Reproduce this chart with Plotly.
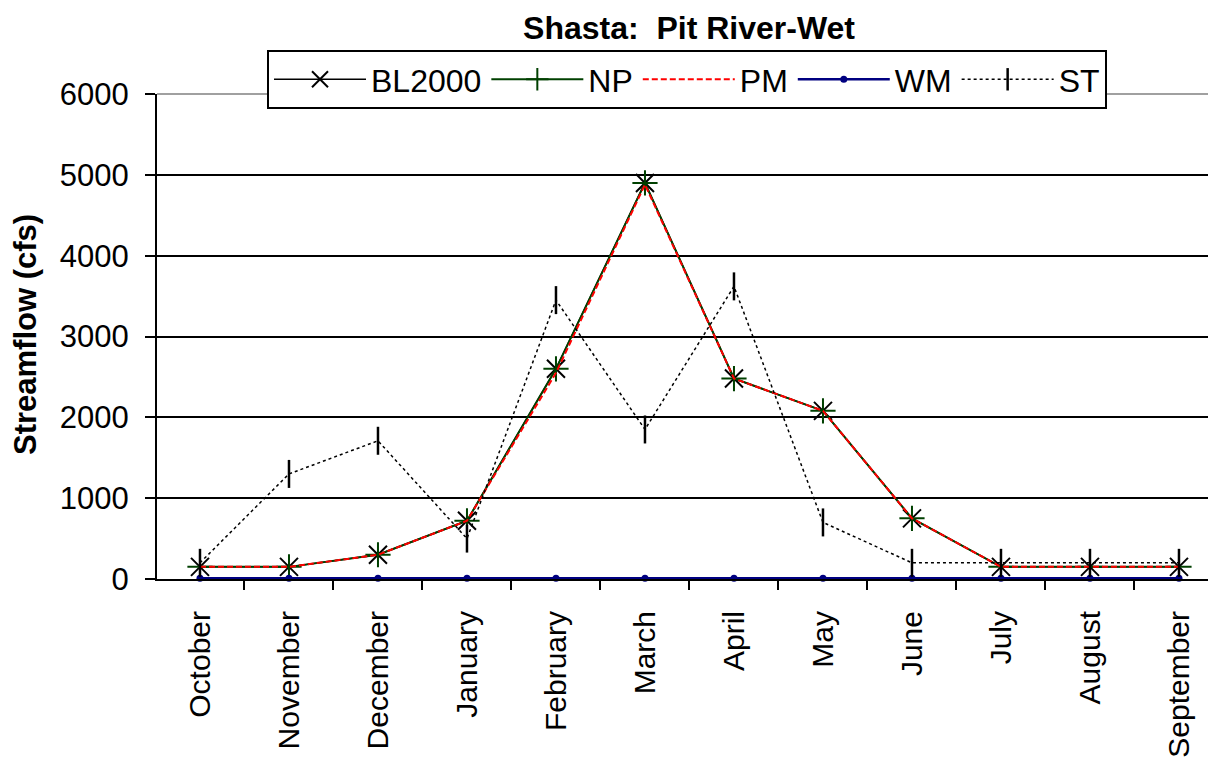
import plotly.graph_objects as go

months = ["October", "November", "December", "January", "February", "March",
          "April", "May", "June", "July", "August", "September"]
bl2000 = [150, 150, 300, 720, 2600, 4900, 2480, 2080, 750, 150, 150, 150]
np_vals = [150, 150, 300, 720, 2600, 4900, 2480, 2080, 750, 150, 150, 150]
pm_vals = [150, 150, 300, 720, 2550, 4880, 2480, 2080, 750, 150, 150, 150]
wm_vals = [10, 10, 10, 10, 10, 10, 10, 10, 10, 10, 10, 10]
st_vals = [200, 1300, 1710, 500, 3450, 1850, 3620, 700, 200, 200, 200, 200]

FONT = "Liberation Sans, Arial, sans-serif"

# page body has an 8px margin, so the figure is offset by (8, 8) in the window
W, H = 1208, 754
L, T, B = 149, 86, 183
PW = W - L
PH = H - T - B

fig = go.Figure()
fig.add_trace(go.Scatter(x=months, y=bl2000, name="BL2000", mode="lines+markers",
                         line=dict(color="black", width=1.5),
                         marker=dict(symbol="x-thin", size=18, line=dict(color="black", width=2))))
fig.add_trace(go.Scatter(x=months, y=np_vals, name="NP", mode="lines+markers",
                         line=dict(color="#004000", width=2),
                         marker=dict(symbol="cross-thin", size=18, line=dict(color="#004000", width=2))))
fig.add_trace(go.Scatter(x=months, y=pm_vals, name="PM", mode="lines",
                         line=dict(color="#ff0000", width=2, dash="6px,3px")))
fig.add_trace(go.Scatter(x=months, y=wm_vals, name="WM", mode="lines+markers",
                         line=dict(color="#000080", width=2.5),
                         marker=dict(symbol="circle", size=7, color="#000080"),
                         cliponaxis=False))
fig.add_trace(go.Scatter(x=months, y=st_vals, name="ST", mode="lines+markers",
                         line=dict(color="black", width=1.5, dash="dot"),
                         marker=dict(symbol="line-ns", size=20, line=dict(color="black", width=2.5))))

fig.update_layout(
    width=W, height=H,
    margin=dict(l=L, r=0, t=T, b=B),
    paper_bgcolor="white", plot_bgcolor="white",
    font=dict(family=FONT, size=30, color="black"),
    title=dict(text="<b>Shasta:\u00a0 Pit River-Wet</b>", x=681 / W, xanchor="center",
               y=1 - 20 / H, yanchor="middle", font=dict(size=32, family=FONT)),
    showlegend=True,
    legend=dict(orientation="h", x=(679 - L) / PW, xanchor="center", y=1 + 44 / PH, yanchor="top",
                bordercolor="black", borderwidth=2, bgcolor="white",
                font=dict(size=32, family=FONT), itemwidth=92, traceorder="normal"),
    xaxis=dict(type="category", range=[-0.483, 11.416], showgrid=False,
               showline=True, linecolor="black", linewidth=2,
               ticks="outside", tickson="boundaries", ticklen=9, tickwidth=2, tickcolor="black",
               tickangle=-90, tickfont=dict(size=30, family=FONT), ticklabelstandoff=18,
               zeroline=False),
    yaxis=dict(range=[0, 6000], tickvals=[0, 1000, 2000, 3000, 4000, 5000, 6000],
               showgrid=True, gridcolor="black", gridwidth=2,
               showline=True, linecolor="black", linewidth=2,
               ticks="outside", ticklen=10, tickwidth=2, tickcolor="black",
               tickfont=dict(size=31, family=FONT), ticklabelstandoff=10, zeroline=False),
    shapes=[dict(type="line", xref="paper", yref="paper", x0=0, x1=1, y0=1, y1=1,
                 line=dict(color="#808080", width=1.5), layer="above")],
    annotations=[dict(text="<b>Streamflow (cfs)</b>", textangle=-90, xref="paper", yref="paper",
                      x=(17 - L) / PW, y=0.503, xanchor="center", yanchor="middle",
                      showarrow=False, font=dict(size=31, family=FONT))],
)

fig.write_html("out.html")
